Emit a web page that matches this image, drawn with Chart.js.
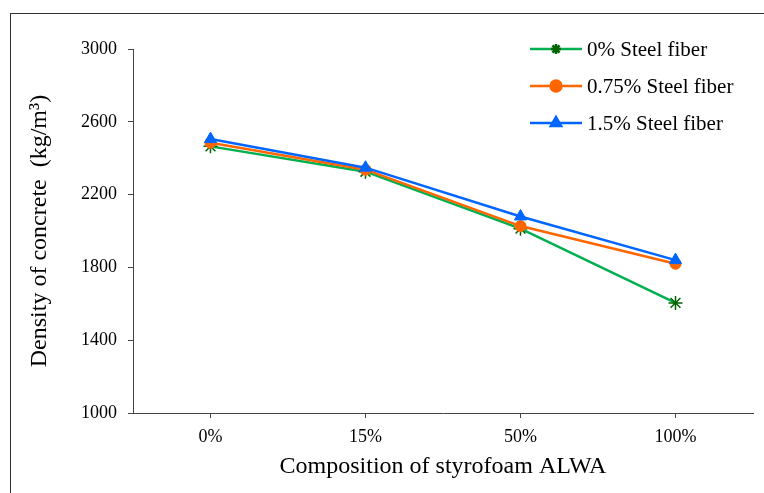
<!DOCTYPE html>
<html>
<head>
<meta charset="utf-8">
<script src="https://cdn.jsdelivr.net/npm/chart.js@4/dist/chart.umd.min.js"></script>
<style>
  html, body { margin: 0; padding: 0; background: #fff; overflow: hidden; }
  #wrap { position: relative; width: 764px; height: 493px; }
  #frame { position: absolute; left: 10px; top: 13px; width: 800px; height: 600px; border: 1px solid #333; box-sizing: border-box; }
  canvas { position: absolute; left: 0; top: 0; }
</style>
</head>
<body>
<div id="wrap">
  <div id="frame"></div>
  <canvas id="chart" width="764" height="493"></canvas>
</div>
<script>
const categories = ['0%', '15%', '50%', '100%'];
const fiber0 = [2465, 2326, 2013, 1605];
const fiber075 = [2485, 2337, 2027, 1820];
const fiber15 = [2505, 2348, 2080, 1840];
const yTicks = [1000, 1400, 1800, 2200, 2600, 3000];

const serif = "'Liberation Serif', 'Times New Roman', serif";

// legend drawn inside the plot, top right
const insideLegend = {
  id: 'insideLegend',
  afterDraw(chart) {
    const ctx = chart.ctx;
    const rows = [49, 86, 123];
    ctx.save();
    chart.data.datasets.forEach((ds, i) => {
      const y = rows[i];
      ctx.strokeStyle = ds.borderColor;
      ctx.lineWidth = 2.5;
      ctx.beginPath();
      ctx.moveTo(530, y);
      ctx.lineTo(582, y);
      ctx.stroke();
      ctx.fillStyle = ds.pointBackgroundColor;
      ctx.strokeStyle = ds.pointBorderColor;
      Chart.helpers.drawPoint(ctx, { pointStyle: ds.pointStyle, rotation: 0, radius: ds.legendRadius, borderWidth: ds.pointBorderWidth }, 556, y);
      ctx.fillStyle = '#000';
      ctx.font = '21px ' + serif;
      ctx.textBaseline = 'middle';
      ctx.textAlign = 'left';
      ctx.fillText(ds.label, 587, y + 1);
    });
    ctx.restore();
  }
};

new Chart(document.getElementById('chart'), {
  type: 'line',
  data: {
    labels: categories,
    datasets: [
      { label: '0% Steel fiber', data: fiber0, borderColor: '#00b050', borderWidth: 2.5,
        pointStyle: 'star', pointRadius: 7, pointBorderWidth: 1.5, pointBorderColor: '#006400', pointBackgroundColor: '#006400',
        legendRadius: 5, order: 2 },
      { label: '0.75% Steel fiber', data: fiber075, borderColor: '#ff6600', borderWidth: 2.5,
        pointStyle: 'circle', pointRadius: 5.5, pointBorderWidth: 1, pointBorderColor: '#ff6600', pointBackgroundColor: '#ff6600',
        legendRadius: 5.5, order: 1 },
      { label: '1.5% Steel fiber', data: fiber15, borderColor: '#0066ff', borderWidth: 2.5,
        pointStyle: 'triangle', pointRadius: 7, pointBorderWidth: 1, pointBorderColor: '#0066ff', pointBackgroundColor: '#0066ff',
        legendRadius: 6, order: 0 }
    ]
  },
  options: {
    responsive: false,
    animation: false,
    layout: { padding: { left: 0, top: 49, right: 11, bottom: 0 } },
    plugins: { legend: { display: false }, tooltip: { enabled: false } },
    scales: {
      x: {
        offset: true,
        grid: { display: true, drawOnChartArea: false, drawTicks: true, tickLength: 5, color: '#444', offset: false },
        border: { display: true, color: '#444', width: 1 },
        ticks: { color: '#000', font: { family: serif, size: 18 }, padding: 8, maxRotation: 0 },
        title: { display: true, text: 'Composition of styrofoam ALWA', color: '#000', font: { family: serif, size: 24 }, padding: { top: 0, bottom: 12 } },
        afterFit(scale) { scale.height = 80; }
      },
      y: {
        min: 1000,
        max: 3000,
        afterBuildTicks(scale) { scale.ticks = yTicks.map(v => ({ value: v })); },
        grid: { display: true, drawOnChartArea: false, drawTicks: true, tickLength: 5, color: '#444' },
        border: { display: true, color: '#444', width: 1 },
        ticks: { color: '#000', font: { family: serif, size: 18 }, padding: 11, callback: v => String(v) },
        title: { display: true, text: 'Density of concrete  (kg/m³)', color: '#000', font: { family: serif, size: 24 }, padding: { top: 25, bottom: 0 } },
        afterFit(scale) { scale.width = 133; }
      }
    }
  },
  plugins: [insideLegend]
});
</script>
</body>
</html>
